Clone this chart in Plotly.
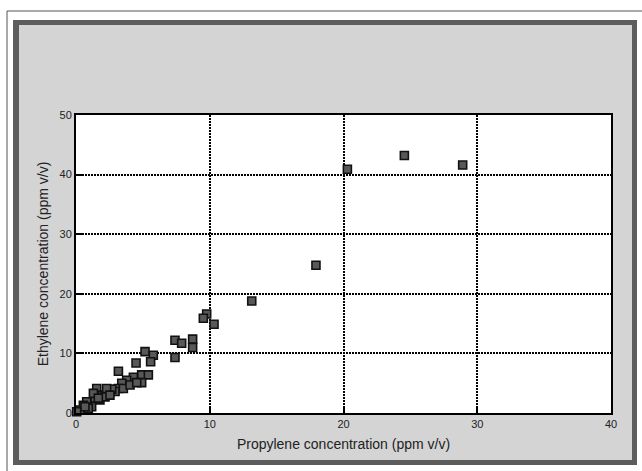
import plotly.graph_objects as go

# Data (ppm v/v)
propylene = [28.91, 24.55, 20.29, 17.94, 13.14,
             9.77, 9.52, 10.32, 7.40, 7.90, 8.72, 8.72, 7.40,
             5.16, 5.78, 5.58, 4.49, 3.17, 4.91, 5.41, 4.29, 4.91,
             3.79, 3.42, 3.17, 2.92, 1.55, 1.99, 2.42, 2.67, 2.29,
             1.42, 1.17, 0.80, 0.55, 0.30, 1.79, 3.54, 4.04, 4.54,
             2.17, 0.92, 0.67, 0.05, 1.30, 2.54, 1.67]
ethylene = [41.6, 43.2, 40.9, 24.8, 18.8,
            16.6, 15.9, 14.9, 12.2, 11.7, 12.4, 11.0, 9.3,
            10.3, 9.7, 8.6, 8.4, 7.0, 6.4, 6.4, 6.0, 5.1,
            5.5, 5.0, 4.1, 3.6, 4.1, 3.0, 3.6, 4.0, 4.1,
            2.5, 1.06, 1.9, 1.3, 0.5, 2.2, 4.1, 4.7, 5.1,
            2.7, 0.8, 1.06, 0.2, 3.3, 3.0, 2.5]

x_ticks = [0, 10, 20, 30, 40]
y_ticks = [0, 10, 20, 30, 40, 50]
x_title = "Propylene concentration (ppm v/v)"
y_title = "Ethylene concentration (ppm v/v)"

W, H = 642, 471
L, R, T, B = 76, 611, 115, 413  # plot area in pixels


def px(x):
    return (x - L) / (R - L)


def py(y):
    return (B - y) / (B - T)


fig = go.Figure()
fig.add_trace(go.Scatter(
    x=propylene, y=ethylene, mode="markers",
    marker=dict(symbol="square", size=8, color="#585858",
                line=dict(color="#111111", width=1.6)),
    showlegend=False, cliponaxis=False,
))

shapes = [
    # outer white panel with thin border
    dict(type="rect", xref="paper", yref="paper", x0=px(7), x1=px(660),
         y0=py(480), y1=py(11), fillcolor="white",
         line=dict(color="#555555", width=1), layer="below"),
    # dark frame
    dict(type="rect", xref="paper", yref="paper", x0=px(13), x1=px(637),
         y0=py(465), y1=py(20), fillcolor="#5c5c5c", line=dict(width=0),
         layer="below"),
    # light gray panel
    dict(type="rect", xref="paper", yref="paper", x0=px(19), x1=px(632),
         y0=py(460), y1=py(25), fillcolor="#d4d4d4", line=dict(width=0),
         layer="below"),
    # white plot area
    dict(type="rect", xref="paper", yref="paper", x0=0, x1=1, y0=0, y1=1,
         fillcolor="white", line=dict(width=0), layer="below"),
]

fig.update_layout(
    width=W, height=H,
    margin=dict(l=L, r=W - R, t=T, b=H - B),
    paper_bgcolor="white", plot_bgcolor="white",
    shapes=shapes,
    font=dict(family="Liberation Sans, Arial, sans-serif", color="#222222"),
)

fig.update_xaxes(
    range=[0, 40], tickvals=x_ticks, ticktext=[str(v) for v in x_ticks],
    showgrid=True, gridcolor="black", gridwidth=1.5, griddash="1.5px,1.5px",
    zeroline=False, showline=True, linecolor="black", linewidth=2, mirror=True,
    ticks="inside", ticklen=7, tickwidth=2, tickcolor="black",
    tickfont=dict(size=11, color="#222222"),
    title=dict(text=x_title, font=dict(size=14, color="#222222"), standoff=10),
)
fig.update_yaxes(
    range=[0, 50], tickvals=y_ticks, ticktext=[str(v) for v in y_ticks],
    showgrid=True, gridcolor="black", gridwidth=1.5, griddash="1.5px,1.5px",
    zeroline=False, showline=True, linecolor="black", linewidth=2, mirror=True,
    ticks="inside", ticklen=7, tickwidth=2, tickcolor="black",
    tickfont=dict(size=11, color="#222222"),
    title=dict(text=y_title, font=dict(size=14, color="#222222"), standoff=8),
)

fig.write_html("out.html")
